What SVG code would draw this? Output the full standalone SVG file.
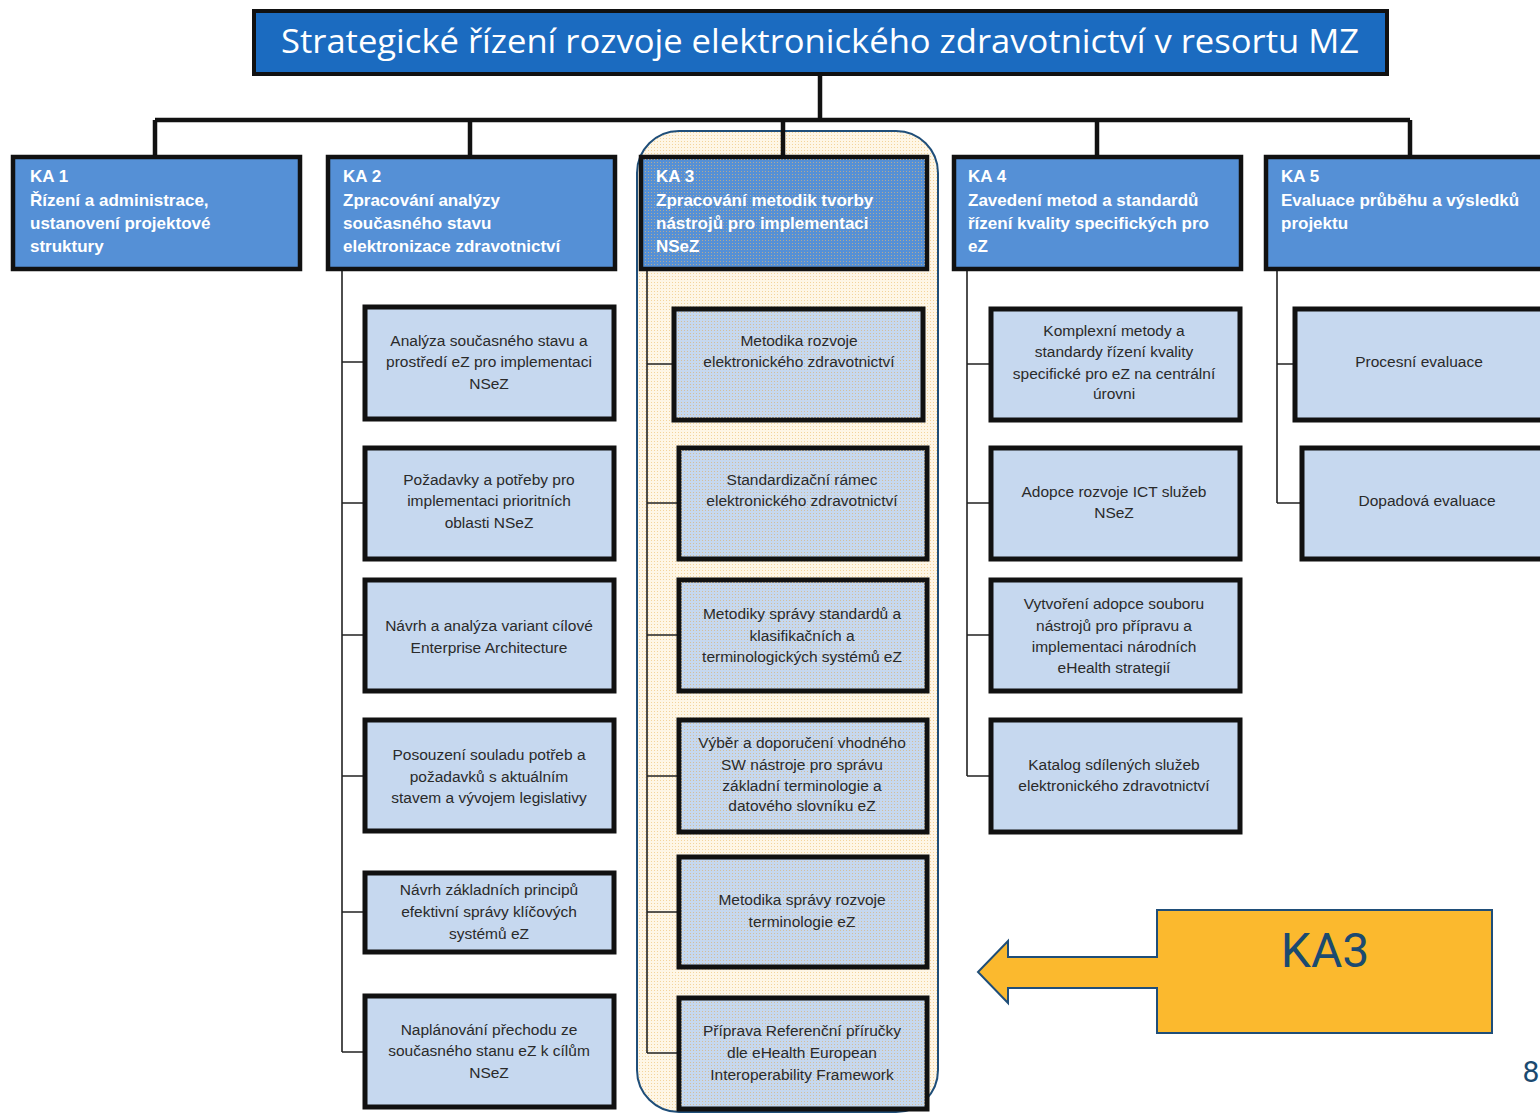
<svg xmlns="http://www.w3.org/2000/svg" width="1540" height="1115" viewBox="0 0 1540 1115">
<defs>
<pattern id="dots" width="3" height="3" patternUnits="userSpaceOnUse">
<rect width="3" height="3" fill="#FEF6E6"/>
<rect width="1" height="1" fill="#F3D49C"/>
</pattern>
<pattern id="dotsOver" width="3" height="3" patternUnits="userSpaceOnUse">
<rect width="1" height="1" fill="#D9B47A" fill-opacity="0.7"/>
</pattern>
</defs>
<style>
.title{fill:#1B6BC0;stroke:#111;stroke-width:4}
.titletxt{font-family:"Open Sans","Liberation Sans",sans-serif;font-size:33px;fill:#fff}
.hdr{fill:#5590D6;stroke:#111;stroke-width:4.5}
.hdrtxt{font-family:"Liberation Sans",Arial,sans-serif;font-size:17px;font-weight:bold;fill:#fff}
.ch{fill:#C6D8EF;stroke:#111;stroke-width:5}
.chtxt{font-family:"Liberation Sans",Arial,sans-serif;font-size:15.5px;fill:#2a2a2a;text-anchor:middle}
.main{fill:none;stroke:#111;stroke-width:4.5}
.sub{fill:none;stroke:#222;stroke-width:1.6}
</style>
<rect width="1540" height="1115" fill="#fff"/>

<g id="ka3-highlight">
<rect x="637" y="131" width="301" height="981" rx="42" ry="42" fill="url(#dots)" stroke="#1F4E79" stroke-width="2"/>
</g>

<g id="connectors">
<path class="main" d="M820 75 V120 M155 120 H1410 M155 120 V156 M470 120 V156 M783 120 V156 M1097 120 V156 M1410 120 V156"/>
<path class="sub" d="M342 270 V1052 M342 362 H363 M342 503 H363 M342 635 H363 M342 776 H363 M342 912 H363 M342 1052 H363"/>
<path class="sub" d="M647 270 V1053 M647 364 H672 M647 503 H677 M647 635 H677 M647 776 H677 M647 912 H677 M647 1053 H677"/>
<path class="sub" d="M967 270 V776 M967 364 H989 M967 503 H989 M967 635 H989 M967 776 H989"/>
<path class="sub" d="M1277 270 V503 M1277 364 H1293 M1277 503 H1300"/>
</g>

<g id="title">
<rect class="title" x="254" y="11" width="1133" height="63"/>
<text class="titletxt" x="820" y="53" text-anchor="middle" textLength="1078" lengthAdjust="spacingAndGlyphs">Strategické řízení rozvoje elektronického zdravotnictví v resortu MZ</text>
</g>

<g id="ka1">
<rect class="hdr" x="13" y="157" width="287" height="112"/>
<text class="hdrtxt" x="30" y="182">KA 1<tspan x="30" y="206">Řízení a administrace,</tspan><tspan x="30" y="229">ustanovení projektové</tspan><tspan x="30" y="252">struktury</tspan></text>
</g>
<g id="ka2">
<rect class="hdr" x="328" y="157" width="287" height="112"/>
<text class="hdrtxt" x="343" y="182">KA 2<tspan x="343" y="206">Zpracování analýzy</tspan><tspan x="343" y="229">současného stavu</tspan><tspan x="343" y="252">elektronizace zdravotnictví</tspan></text>
</g>
<g id="ka3">
<rect class="hdr" x="641" y="157" width="286" height="112"/>
<rect x="643" y="159" width="282" height="108" fill="url(#dotsOver)"/>
<text class="hdrtxt" x="656" y="182">KA 3<tspan x="656" y="206">Zpracování metodik tvorby</tspan><tspan x="656" y="229">nástrojů pro implementaci</tspan><tspan x="656" y="252">NSeZ</tspan></text>
</g>
<g id="ka4">
<rect class="hdr" x="954" y="157" width="287" height="112"/>
<text class="hdrtxt" x="968" y="182">KA 4<tspan x="968" y="206">Zavedení metod a standardů</tspan><tspan x="968" y="229">řízení kvality specifických pro</tspan><tspan x="968" y="252">eZ</tspan></text>
</g>
<g id="ka5">
<rect class="hdr" x="1266" y="157" width="290" height="112"/>
<text class="hdrtxt" x="1281" y="182">KA 5<tspan x="1281" y="206">Evaluace průběhu  a výsledků</tspan><tspan x="1281" y="229">projektu</tspan></text>
</g>

<g id="ka2-1"><rect class="ch" x="365" y="307" width="249" height="112"/>
<text class="chtxt" x="489" y="346">Analýza současného stavu a<tspan x="489" y="367">prostředí eZ pro implementaci</tspan><tspan x="489" y="389">NSeZ</tspan></text></g>
<g id="ka2-2"><rect class="ch" x="365" y="448" width="249" height="111"/>
<text class="chtxt" x="489" y="485">Požadavky a potřeby pro<tspan x="489" y="506">implementaci prioritních</tspan><tspan x="489" y="528">oblasti NSeZ</tspan></text></g>
<g id="ka2-3"><rect class="ch" x="365" y="580" width="249" height="111"/>
<text class="chtxt" x="489" y="631">Návrh a analýza  variant cílové<tspan x="489" y="653">Enterprise Architecture</tspan></text></g>
<g id="ka2-4"><rect class="ch" x="365" y="720" width="249" height="111"/>
<text class="chtxt" x="489" y="760">Posouzení souladu potřeb a<tspan x="489" y="782">požadavků s aktuálním</tspan><tspan x="489" y="803">stavem a vývojem legislativy</tspan></text></g>
<g id="ka2-5"><rect class="ch" x="365" y="873" width="249" height="79"/>
<text class="chtxt" x="489" y="895">Návrh základních principů<tspan x="489" y="917">efektivní správy klíčových</tspan><tspan x="489" y="939">systémů eZ</tspan></text></g>
<g id="ka2-6"><rect class="ch" x="365" y="996" width="249" height="111"/>
<text class="chtxt" x="489" y="1035">Naplánování přechodu ze<tspan x="489" y="1056">současného stanu eZ k cílům</tspan><tspan x="489" y="1078">NSeZ</tspan></text></g>

<g id="ka3-1"><rect class="ch" x="674" y="309" width="249" height="111"/><rect x="676" y="311" width="245" height="107" fill="url(#dotsOver)"/>
<text class="chtxt" x="799" y="346">Metodika  rozvoje<tspan x="799" y="367">elektronického zdravotnictví</tspan></text></g>
<g id="ka3-2"><rect class="ch" x="679" y="448" width="248" height="111"/><rect x="681" y="450" width="244" height="107" fill="url(#dotsOver)"/>
<text class="chtxt" x="802" y="485">Standardizační rámec<tspan x="802" y="506">elektronického zdravotnictví</tspan></text></g>
<g id="ka3-3"><rect class="ch" x="679" y="580" width="248" height="111"/><rect x="681" y="582" width="244" height="107" fill="url(#dotsOver)"/>
<text class="chtxt" x="802" y="619">Metodiky správy standardů a<tspan x="802" y="641">klasifikačních a</tspan><tspan x="802" y="662">terminologických systémů eZ</tspan></text></g>
<g id="ka3-4"><rect class="ch" x="679" y="720" width="248" height="112"/><rect x="681" y="722" width="244" height="108" fill="url(#dotsOver)"/>
<text class="chtxt" x="802" y="748">Výběr a doporučení vhodného<tspan x="802" y="770">SW nástroje pro správu</tspan><tspan x="802" y="791">základní terminologie a</tspan><tspan x="802" y="811">datového slovníku eZ</tspan></text></g>
<g id="ka3-5"><rect class="ch" x="679" y="857" width="248" height="110"/><rect x="681" y="859" width="244" height="106" fill="url(#dotsOver)"/>
<text class="chtxt" x="802" y="905">Metodika správy rozvoje<tspan x="802" y="927">terminologie eZ</tspan></text></g>
<g id="ka3-6"><rect class="ch" x="679" y="998" width="248" height="111"/><rect x="681" y="1000" width="244" height="107" fill="url(#dotsOver)"/>
<text class="chtxt" x="802" y="1036">Příprava Referenční příručky<tspan x="802" y="1058">dle eHealth European</tspan><tspan x="802" y="1080">Interoperability Framework</tspan></text></g>

<g id="ka4-1"><rect class="ch" x="991" y="309" width="249" height="111"/>
<text class="chtxt" x="1114" y="336">Komplexní metody a<tspan x="1114" y="357">standardy řízení kvality</tspan><tspan x="1114" y="379">specifické pro eZ na centrální</tspan><tspan x="1114" y="399">úrovni</tspan></text></g>
<g id="ka4-2"><rect class="ch" x="991" y="448" width="249" height="111"/>
<text class="chtxt" x="1114" y="497">Adopce rozvoje ICT služeb<tspan x="1114" y="518">NSeZ</tspan></text></g>
<g id="ka4-3"><rect class="ch" x="991" y="580" width="249" height="111"/>
<text class="chtxt" x="1114" y="609">Vytvoření adopce souboru<tspan x="1114" y="631">nástrojů pro přípravu a</tspan><tspan x="1114" y="652">implementaci  národních</tspan><tspan x="1114" y="673">eHealth strategií</tspan></text></g>
<g id="ka4-4"><rect class="ch" x="991" y="720" width="249" height="112"/>
<text class="chtxt" x="1114" y="770">Katalog sdílených služeb<tspan x="1114" y="791">elektronického zdravotnictví</tspan></text></g>

<g id="ka5-1"><rect class="ch" x="1295" y="309" width="260" height="111"/>
<text class="chtxt" x="1419" y="367">Procesní evaluace</text></g>
<g id="ka5-2"><rect class="ch" x="1302" y="448" width="253" height="111"/>
<text class="chtxt" x="1427" y="506">Dopadová evaluace</text></g>

<g id="callout">
<path d="M1157 910 H1492 V1033 H1157 V988 H1008 V1003 L978 972 L1008 941 V957 H1157 Z" fill="#FBB92E" stroke="#1F4E79" stroke-width="2"/>
<text x="1325" y="967" text-anchor="middle" font-family="Roboto,'Liberation Sans',sans-serif" font-size="48" fill="#1B4A70">KA3</text>
</g>
<text x="1531" y="1082" text-anchor="middle" font-family="Roboto,'Liberation Sans',sans-serif" font-size="30" fill="#1B4A70">8</text>
</svg>
